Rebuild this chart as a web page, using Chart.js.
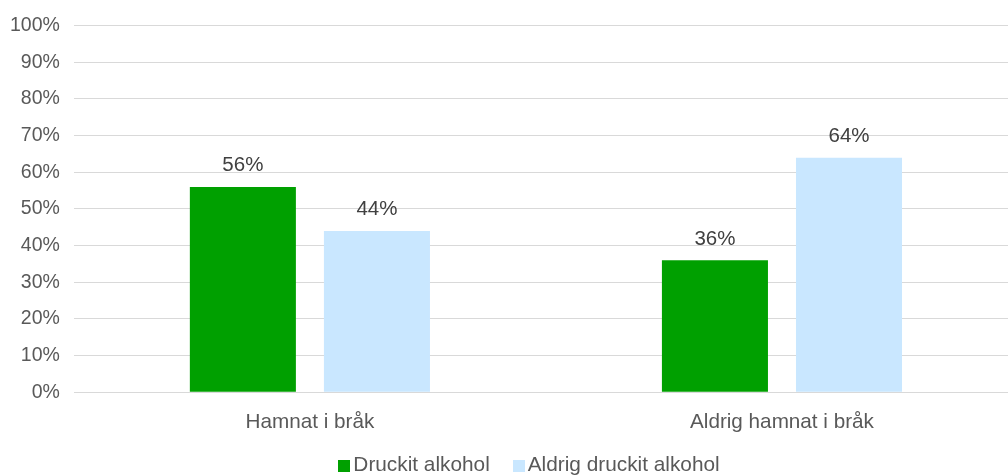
<!DOCTYPE html>
<html>
<head>
<meta charset="utf-8">
<script src="https://cdn.jsdelivr.net/npm/chart.js@4/dist/chart.umd.min.js"></script>
<style>
  html, body { margin: 0; padding: 0; background: #fff; overflow: hidden; }
  #wrap { position: absolute; left: -4px; top: 0; width: 1022px; height: 475px; }
  #legend {
    position: absolute; left: 0; top: 452px; width: 1058px;
    text-align: center; font: 20.8px 'Liberation Sans', Arial, sans-serif;
    color: #595959; line-height: 24px; white-space: nowrap;
  }
  #legend .item { display: inline-block; margin: 0 11.5px; }
  #legend .box { display: inline-block; width: 12px; height: 12px; margin-right: 3px; vertical-align: -1px; }
</style>
</head>
<body>
<div id="wrap"><canvas id="chart" width="1022" height="475"></canvas></div>
<div id="legend"></div>
<script>
// data
const categories = ["Hamnat i bråk", "Aldrig hamnat i bråk"];
const drucketAlkohol = [56, 36];
const aldrigDrucket = [44, 64];
const seriesNames = ["Druckit alkohol", "Aldrig druckit alkohol"];
const seriesColors = ["#00a000", "#c9e7ff"];

const FONT = "'Liberation Sans', Arial, sans-serif";
const TEXT = "#595959";

// % labels above each bar
const barLabels = {
  id: "barLabels",
  afterDatasetsDraw(chart) {
    const ctx = chart.ctx;
    ctx.save();
    ctx.font = "20.5px " + FONT;
    ctx.fillStyle = "#404040";
    ctx.textAlign = "center";
    ctx.textBaseline = "bottom";
    chart.data.datasets.forEach((ds, i) => {
      chart.getDatasetMeta(i).data.forEach((bar, j) => {
        ctx.fillText(ds.data[j] + "%", bar.x, bar.y - 11);
      });
    });
    ctx.restore();
  }
};

new Chart(document.getElementById("chart"), {
  type: "bar",
  data: {
    labels: categories,
    datasets: [
      {
        label: seriesNames[0],
        data: drucketAlkohol,
        backgroundColor: seriesColors[0],
        barPercentage: 0.791,
        categoryPercentage: 0.568
      },
      {
        label: seriesNames[1],
        data: aldrigDrucket,
        backgroundColor: seriesColors[1],
        barPercentage: 0.791,
        categoryPercentage: 0.568
      }
    ]
  },
  options: {
    responsive: false,
    animation: false,
    layout: { padding: { top: 12.5, left: 0, right: 0, bottom: 30 } },
    plugins: {
      legend: { display: false },
      tooltip: { enabled: false }
    },
    scales: {
      y: {
        min: 0,
        max: 100,
        ticks: {
          stepSize: 10,
          color: TEXT,
          font: { family: FONT, size: 19.5 },
          padding: 14,
          callback: v => v + "%"
        },
        grid: { color: "#d9d9d9", lineWidth: 1, drawTicks: false },
        border: { display: false }
      },
      x: {
        ticks: {
          color: TEXT,
          font: { family: FONT, size: 20.7 },
          padding: 10
        },
        grid: { display: false },
        border: { display: false }
      }
    }
  },
  plugins: [barLabels]
});

// legend
const legend = document.getElementById("legend");
seriesNames.forEach((name, i) => {
  const item = document.createElement("span");
  item.className = "item";
  const box = document.createElement("span");
  box.className = "box";
  box.style.background = seriesColors[i];
  item.appendChild(box);
  item.appendChild(document.createTextNode(name));
  legend.appendChild(item);
});
</script>
</body>
</html>
